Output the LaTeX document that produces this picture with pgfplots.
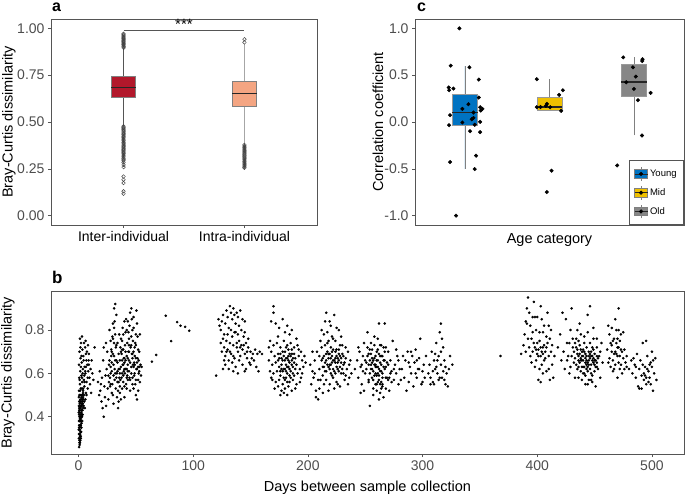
\documentclass[border=0pt]{standalone}
\usepackage{pgfplots}
\pgfplotsset{compat=1.18}
\usepgfplotslibrary{statistics}
\usepackage{fontspec}
\setmainfont{Liberation Sans}
\definecolor{tl}{HTML}{4D4D4D}
\definecolor{frame}{HTML}{555555}
\definecolor{redA}{HTML}{B2182B}
\definecolor{salmon}{HTML}{F4A582}
\definecolor{jblue}{HTML}{0073C2}
\definecolor{jyellow}{HTML}{EFC000}
\definecolor{jgray}{HTML}{868686}
\pgfplotsset{
  base/.style={
    scale only axis,
    axis line style={frame, line width=0.8pt},
    tick style={frame, line width=0.6pt},
    major tick length=3pt,
    tick align=outside,
    tick pos=left,
    ticklabel style={text=tl, font=\fontsize{14}{16}\selectfont},
    label style={font=\fontsize{14.5}{17}\selectfont},
    /pgf/number format/assume math mode=true,
    boxplot/draw direction=y,
    boxplot/whisker extend=0,
    boxplot/every median/.style={black!85, line width=1.3pt},
  }
}
\begin{document}
\begin{tikzpicture}
\path[use as bounding box] (0,0) rectangle (685pt,496pt);
% ---------------- panel a
\begin{axis}[base, at={(51pt,271pt)}, anchor=south west, width=266pt, height=206pt,
  xmin=0.4, xmax=2.6, ymin=-0.05, ymax=1.05,
  xtick={1,2}, xticklabels={Inter-individual,Intra-individual},
  xticklabel style={text=black},
  ytick={0,0.25,0.5,0.75,1}, yticklabels={0.00,0.25,0.50,0.75,1.00},
  ylabel={Bray-Curtis dissimilarity},
  ylabel style={at={(axis description cs:-0.158,0.5)}, anchor=center},
  boxplot/box extend=0.2]
\addplot[draw=gray, fill=redA, line width=0.6pt,
  boxplot/every whisker/.style={draw=frame, line width=0.8pt},
  boxplot prepared={draw position=1, lower whisker=0.48, lower quartile=0.632,
  median=0.684, upper quartile=0.742, upper whisker=0.892}] coordinates {};
\addplot[draw=gray, fill=salmon, line width=0.6pt,
  boxplot/every whisker/.style={draw=gray!70, line width=0.8pt},
  boxplot prepared={draw position=2, lower whisker=0.385, lower quartile=0.582,
  median=0.652, upper quartile=0.717, upper whisker=0.918}] coordinates {};
\addplot[only marks, mark=o, mark size=1.8pt, draw=black!75, mark options={line width=0.45pt}] coordinates {
(1,0.896)(1,0.901)(1,0.905)(1,0.911)(1,0.915)(1,0.920)(1,0.926)(1,0.930)(1,0.935)(1,0.941)(1,0.946)(1,0.950)(1,0.955)(1,0.961)(1,0.966)(1,0.971)
(1,0.477)(1,0.471)(1,0.467)(1,0.460)(1,0.455)(1,0.450)(1,0.443)(1,0.438)(1,0.433)(1,0.426)(1,0.421)(1,0.416)(1,0.409)(1,0.404)(1,0.399)(1,0.392)(1,0.387)(1,0.382)(1,0.375)(1,0.370)(1,0.365)(1,0.358)(1,0.353)(1,0.348)(1,0.341)(1,0.336)(1,0.331)(1,0.324)(1,0.318)(1,0.313)(1,0.305)(1,0.299)(1,0.293)(1,0.284)(1,0.271)(1,0.259)(1,0.209)(1,0.192)(1,0.174)(1,0.130)(1,0.117)
(2,0.925)(2,0.942)
(2,0.378)(2,0.372)(2,0.366)(2,0.361)(2,0.355)(2,0.349)(2,0.344)(2,0.338)(2,0.333)(2,0.327)(2,0.321)(2,0.315)(2,0.309)(2,0.304)(2,0.298)(2,0.292)(2,0.287)(2,0.281)(2,0.276)(2,0.270)(2,0.265)(2,0.259)(2,0.255)
};
\addplot[frame, line width=0.7pt] coordinates {(1,0.991)(2,0.991)};
\node[anchor=south, inner sep=1pt, font=\fontsize{15}{15}\selectfont] at (axis cs:1.5,0.985) {***};
\end{axis}
% ---------------- panel c
\begin{axis}[base, at={(415pt,271pt)}, anchor=south west, width=269pt, height=206pt,
  xmin=-1.59, xmax=1.59, ymin=-1.1, ymax=1.1,
  xtick=\empty,
  ytick={-1,-0.5,0,0.5,1}, yticklabels={-1.0,-0.5,0.0,0.5,1.0},
  ylabel={Correlation coefficient},
  ylabel style={at={(axis description cs:-0.1375,0.5)}, anchor=center},
  xlabel={Age category},
  xlabel style={at={(axis description cs:0.5,-0.089)}, anchor=base},
  boxplot/box extend=0.3,
  legend style={at={(1,0)}, anchor=south east, draw=frame, line width=0.8pt,
    font=\fontsize{9.5}{11}\selectfont, row sep=4.5pt, inner xsep=5pt, inner ysep=6pt},
  legend cell align=left]
\addplot[forget plot, draw=gray!80, fill=jblue, line width=0.6pt,
  boxplot/every whisker/.style={draw=gray, line width=0.7pt},
  boxplot prepared={draw position=-1, lower whisker=-0.503, lower quartile=-0.034,
  median=0.098, upper quartile=0.297, upper whisker=0.598}] coordinates {};
\addplot[forget plot, draw=gray!80, fill=jyellow, line width=0.6pt,
  boxplot/every whisker/.style={draw=gray, line width=0.7pt},
  boxplot prepared={draw position=0, lower whisker=0.119, lower quartile=0.126,
  median=0.161, upper quartile=0.268, upper whisker=0.457}] coordinates {};
\addplot[forget plot, draw=gray!80, fill=jgray, line width=0.6pt,
  boxplot/every whisker/.style={draw=gray, line width=0.7pt},
  boxplot prepared={draw position=1, lower whisker=-0.144, lower quartile=0.271,
  median=0.428, upper quartile=0.62, upper whisker=0.69}] coordinates {};
\addplot[forget plot, only marks, mark=*, mark size=1.8pt, black] coordinates {
(-1.065,1.0)(-1.168,0.602)(-0.947,0.584)(-0.836,0.453)(-1.191,0.368)(-1.136,0.357)(-1.187,0.339)
(-0.836,0.261)(-0.959,0.19)(-1.03,0.14)(-0.82,0.158)(-0.793,0.14)(-0.813,0.123)(-0.899,0.101)
(-1.176,0.073)(-0.899,0.044)(-0.919,0.03)(-1.03,-0.005)(-0.82,0.002)(-0.884,-0.03)(-1.187,-0.034)
(-0.939,-0.098)(-0.82,-0.108)(-0.868,-0.36)(-1.176,-0.428)(-0.884,-0.503)(-1.105,-1.0)
(-0.15,0.457)(0.158,0.339)(0.114,0.29)(-0.03,0.194)(-0.043,0.172)(0.008,0.158)(-0.15,0.158)(-0.106,0.16)(0.138,0.119)(0.024,-0.52)(-0.032,-0.748)
(0.872,0.69)(1.1,0.67)(1.096,0.652)(0.986,0.584)(1.02,0.485)(0.907,0.424)(0.998,0.353)(1.195,0.311)(1.045,0.233)(1.093,-0.144)(0.8,-0.464)
};
\addlegendimage{legend image code/.code={
  \draw[gray, line width=0.6pt] (0.25cm,-0.24cm) -- (0.25cm,0.24cm);
  \draw[draw=gray, fill=jblue, line width=0.5pt] (0.02cm,-0.15cm) rectangle (0.48cm,0.15cm);
  \draw[black!85, line width=0.8pt] (0.02cm,0) -- (0.48cm,0);
  \fill[black] (0.25cm,0) circle (1.6pt);}}
\addlegendentry{Young}
\addlegendimage{legend image code/.code={
  \draw[gray, line width=0.6pt] (0.25cm,-0.24cm) -- (0.25cm,0.24cm);
  \draw[draw=gray, fill=jyellow, line width=0.5pt] (0.02cm,-0.15cm) rectangle (0.48cm,0.15cm);
  \draw[black!85, line width=0.8pt] (0.02cm,0) -- (0.48cm,0);
  \fill[black] (0.25cm,0) circle (1.6pt);}}
\addlegendentry{Mid}
\addlegendimage{legend image code/.code={
  \draw[gray, line width=0.6pt] (0.25cm,-0.24cm) -- (0.25cm,0.24cm);
  \draw[draw=gray, fill=jgray, line width=0.5pt] (0.02cm,-0.15cm) rectangle (0.48cm,0.15cm);
  \draw[black!85, line width=0.8pt] (0.02cm,0) -- (0.48cm,0);
  \fill[black] (0.25cm,0) circle (1.6pt);}}
\addlegendentry{Old}
\end{axis}
% ---------------- panel b
\begin{axis}[base, at={(51pt,42pt)}, anchor=south west, width=633pt, height=162.3pt,
  xmin=-24, xmax=528, ymin=0.228, ymax=0.977,
  xtick={0,100,200,300,400,500}, xticklabels={0,100,200,300,400,500},
  ytick={0.4,0.6,0.8}, yticklabels={0.4,0.6,0.8},
  ylabel={Bray-Curtis dissimilarity},
  ylabel style={at={(axis description cs:-0.068,0.5)}, anchor=center},
  xlabel={Days between sample collection},
  xlabel style={at={(axis description cs:0.5,-0.232)}, anchor=base}]
\addplot[only marks, mark=*, mark size=1.1pt, black] coordinates {
(0.5,0.26)(1,0.27)(0.8,0.28)(1.5,0.29)(0.3,0.30)(1.2,0.31)(2,0.30)(0.7,0.32)(1.6,0.33)(0.2,0.34)(2.3,0.33)(1.1,0.35)(0.6,0.36)(1.8,0.36)(2.6,0.37)(0.4,0.38)(1.4,0.38)(2.1,0.39)(0.9,0.40)(3,0.40)(1.7,0.41)(0.2,0.42)(2.4,0.42)(1.3,0.43)(3.4,0.43)(0.7,0.44)(1.9,0.44)(2.8,0.45)(0.4,0.45)(3.8,0.46)(1.1,0.46)(2.2,0.47)(0.6,0.47)(3.1,0.48)(1.5,0.48)(4.2,0.48)(0.3,0.49)(2.6,0.49)(1.8,0.50)(3.5,0.50)(0.9,0.38)(1.3,0.34)(0.5,0.41)(2.0,0.36)(1.6,0.45)(2.9,0.43)(4.5,0.45)(3.3,0.46)(0.8,0.50)(5,0.47)(1.2,0.39)(2.5,0.35)(0.4,0.32)(1.9,0.31)(3.6,0.41)(4.8,0.50)(5.5,0.44)(6,0.48)
(0.9,0.29)(1.4,0.32)(2.2,0.38)(1.0,0.42)(2.7,0.40)(3.9,0.44)(0.6,0.43)(1.6,0.47)(2.9,0.48)(4.0,0.49)(1.2,0.28)(1.8,0.40)(2.4,0.45)(3.2,0.38)(0.8,0.36)
(1.1,0.30)(2.0,0.33)(0.5,0.35)(1.7,0.38)(2.8,0.41)(1.0,0.44)(3.5,0.47)(2.3,0.50)(4.0,0.53)(1.4,0.52)(3.0,0.58)(5.8,0.61)(2.6,0.68)(7.3,0.70)(1.7,0.72)(4.8,0.74)(6.5,0.69)(8.8,0.66)(3.6,0.60)(0.9,0.47)(2.7,0.46)(3.9,0.51)(5.2,0.56)(6.4,0.63)(8.0,0.58)
(0.5,0.52)(2,0.53)(4,0.52)(6.5,0.51)(1.2,0.55)(3.2,0.56)(5.1,0.54)(8,0.53)(0.7,0.58)(2.5,0.59)(4.6,0.57)(7,0.56)(9.5,0.58)(1.5,0.61)(3.8,0.62)(6,0.60)(8.5,0.61)(0.4,0.64)(2.8,0.65)(5.3,0.63)(7.6,0.64)(10.5,0.62)(1.8,0.67)(4.2,0.68)(6.8,0.66)(0.9,0.70)(3.4,0.71)(9,0.69)(2.2,0.74)(5.7,0.72)(1.2,0.76)(3,0.77)(6.2,0.75)(8.2,0.73)(11.5,0.66)(12,0.60)(13,0.57)(10,0.55)(11,0.51)(14,0.72)(3,0.53)(5,0.59)(7,0.50)(2,0.63)(4.5,0.66)(9,0.64)(1,0.57)
(17,0.56)(18,0.50)(19,0.52)(20,0.47)(21,0.44)(22,0.40)(18.5,0.61)(20.5,0.58)(22.5,0.54)(23,0.49)(24,0.45)(24.5,0.62)(25,0.70)(21.5,0.66)(23.5,0.59)(19.5,0.55)(25.5,0.53)(26,0.48)(22,0.72)(24,0.74)(26.5,0.64)
(27,0.80)(28,0.75)(28.5,0.68)(29,0.61)(29.5,0.55)(30,0.50)(30.5,0.46)(31,0.90)(31.5,0.84)(32,0.78)(32.5,0.72)(33,0.66)(33.5,0.60)(34,0.56)(34.5,0.52)(35,0.47)(27.5,0.58)(28,0.63)(29,0.70)(30,0.76)(31,0.81)(32,0.92)(33,0.87)(34,0.74)(35,0.69)(26,0.59)(27,0.66)(28.5,0.71)(30.5,0.64)(31.5,0.57)(32.5,0.53)(33.5,0.49)(34.5,0.44)(29.5,0.77)(30,0.83)(35,0.62)(34,0.65)(31,0.68)(27.5,0.54)(33,0.73)(32,0.60)(29,0.51)(26.5,0.56)(30.5,0.59)(31.5,0.62)(28,0.55)(35.5,0.58)(35.5,0.78)
(36,0.51)(36.5,0.57)(37,0.63)(37.5,0.69)(38,0.75)(38.5,0.81)(39,0.56)(39.5,0.61)(40,0.67)(40.5,0.73)(41,0.79)(41.5,0.85)(42,0.53)(42.5,0.59)(43,0.64)(43.5,0.70)(44,0.76)(44.5,0.82)(45,0.88)(36,0.66)(37,0.48)(38,0.60)(39,0.71)(40,0.54)(41,0.62)(42,0.68)(43,0.57)(44,0.61)(45,0.65)(36.5,0.72)(37.5,0.58)(38.5,0.64)(39.5,0.67)(40.5,0.60)(41.5,0.55)(42.5,0.74)(43.5,0.79)(44.5,0.58)(45,0.52)(38,0.53)(40,0.49)(42,0.62)(44,0.66)(39,0.78)(41,0.70)(43,0.84)(37,0.76)(45.5,0.72)(36,0.60)(40,0.65)
(46,0.90)(46.5,0.85)(47,0.80)(47.5,0.75)(48,0.70)(48.5,0.65)(49,0.60)(49.5,0.55)(50,0.50)(50.5,0.89)(51,0.83)(51.5,0.77)(52,0.71)(52.5,0.66)(53,0.61)(53.5,0.56)(54,0.64)(46,0.63)(47,0.58)(48,0.53)(49,0.68)(50,0.73)(51,0.62)(52,0.57)(53,0.70)(46.5,0.69)(47.5,0.64)(48.5,0.59)(49.5,0.74)(50.5,0.62)(51.5,0.67)(52.5,0.60)(53.5,0.78)(48,0.81)(50,0.78)(52,0.52)(47,0.55)(49,0.64)(51,0.48)(46,0.73)(54.5,0.59)(55,0.63)
(38,0.66)(40,0.62)(42,0.58)(44,0.70)(46,0.60)(48,0.63)(50,0.67)(36,0.62)(34,0.61)(32,0.66)(30,0.69)(28,0.60)(39,0.59)(41,0.66)(43,0.61)(45,0.57)(47,0.69)(49,0.72)(51,0.65)(53,0.63)(37,0.70)(35,0.56)(33,0.58)(31,0.74)(29,0.65)(44,0.73)(46,0.77)(48,0.86)(42,0.80)(40,0.84)(38,0.71)(36,0.54)(50,0.57)(52,0.63)(47,0.67)(43,0.67)(39,0.64)
(64,0.654)(67.7,0.685)(76,0.866)(80.8,0.749)(86,0.837)(89,0.82)(93,0.815)(96.5,0.797)
(122,0.85)(123,0.82)(124,0.80)(125,0.84)(126,0.87)(127,0.78)(128,0.83)(129,0.89)(130,0.86)(131,0.81)(132,0.91)(133,0.88)(134,0.85)(135,0.90)(136,0.87)(137,0.83)(138,0.88)(139,0.86)(140,0.82)(141,0.89)(143,0.85)(145,0.84)
(124,0.74)(125,0.70)(126,0.76)(127,0.72)(128,0.68)(129,0.75)(130,0.71)(131,0.66)(132,0.74)(133,0.69)(134,0.77)(135,0.73)(136,0.67)(137,0.79)(138,0.72)(139,0.70)(140,0.75)(141,0.68)(142,0.73)(143,0.71)(144,0.77)(145,0.69)(146,0.74)(147,0.70)(148,0.72)(150,0.70)(152,0.69)(154,0.71)(156,0.69)(158,0.70)(160,0.69)(130,0.78)(133,0.80)(136,0.79)(139,0.78)(142,0.80)(145,0.79)(128,0.64)(131,0.62)(134,0.65)(137,0.63)(140,0.66)(143,0.64)(146,0.62)(149,0.65)(135,0.61)(139,0.60)(145,0.61)(132,0.70)(138,0.74)(141,0.72)(135,0.68)(129,0.70)(147,0.67)(150,0.64)(153,0.66)(155,0.63)(157,0.61)(120,0.59)(127,0.66)(126,0.62)(144,0.73)(148,0.76)(151,0.67)
(170,0.91)(170,0.88)(168,0.84)(172,0.83)(175,0.81)(178,0.85)(182,0.82)(186,0.80)(180,0.79)(174,0.77)(184,0.78)(190,0.76)(167,0.75)(170,0.73)(173,0.74)(176,0.72)(179,0.75)(182,0.73)(185,0.74)(188,0.72)(191,0.73)(194,0.70)(168,0.70)(171,0.68)(174,0.69)(177,0.67)(180,0.70)(183,0.68)(186,0.69)(189,0.67)(192,0.68)(195,0.66)(198,0.65)(166,0.66)(169,0.64)(172,0.65)(175,0.63)(178,0.66)(181,0.64)(184,0.65)(187,0.63)(190,0.64)(193,0.62)(196,0.63)(167,0.61)(170,0.60)(173,0.61)(176,0.59)(179,0.62)(182,0.60)(185,0.61)(188,0.59)(191,0.60)(194,0.58)(169,0.57)(172,0.56)(175,0.57)(178,0.55)(181,0.58)(184,0.56)(187,0.57)(190,0.55)(193,0.56)(171,0.53)(174,0.54)(177,0.52)(180,0.53)(183,0.54)(186,0.52)(189,0.53)(176,0.50)(179,0.51)(182,0.50)(184,0.62)(183,0.66)(181,0.67)(185,0.58)(186,0.66)(179,0.68)(177,0.62)(188,0.65)(180,0.57)(182,0.63)(178,0.61)(184,0.69)(187,0.60)(186,0.71)(181,0.72)(174,0.66)(176,0.69)(192,0.71)(195,0.60)(197,0.68)(168,0.58)(166,0.72)
(177,0.64)(180,0.66)(183,0.63)(186,0.64)(179,0.58)(182,0.56)(185,0.68)(178,0.70)(181,0.61)(184,0.59)(187,0.67)(176,0.61)(189,0.62)(175,0.67)(188,0.69)(183,0.71)(180,0.62)(182,0.67)
(202,0.64)(204,0.61)(206,0.66)(205,0.58)(203,0.55)(208,0.70)(207,0.52)(207,0.49)(209,0.48)(210,0.62)(212,0.72)(211,0.57)(213,0.67)(214,0.78)(215,0.84)(216,0.88)(217,0.74)(218,0.63)(219,0.69)(220,0.82)(221,0.59)(222,0.76)(223,0.87)(224,0.65)(225,0.71)(226,0.55)(227,0.80)(228,0.68)(229,0.60)(230,0.73)(231,0.64)(232,0.57)(233,0.67)(234,0.62)(235,0.70)(236,0.58)(237,0.66)
(212,0.66)(213,0.63)(214,0.68)(215,0.65)(216,0.61)(217,0.70)(218,0.67)(219,0.64)(220,0.72)(221,0.68)(222,0.62)(223,0.66)(224,0.70)(225,0.63)(226,0.67)(227,0.61)(228,0.73)(229,0.65)(230,0.69)(231,0.60)(215,0.73)(218,0.75)(221,0.77)(224,0.75)(227,0.71)(216,0.57)(219,0.55)(222,0.58)(225,0.56)(228,0.54)(210,0.68)(213,0.59)(217,0.79)(220,0.60)(223,0.53)(226,0.62)(229,0.77)(232,0.65)(211,0.75)(214,0.55)(230,0.62)(233,0.72)(235,0.55)(212,0.80)(219,0.84)(225,0.81)(209,0.57)(218,0.52)(221,0.65)(224,0.60)(227,0.66)(216,0.69)(222,0.71)(210,0.53)(233,0.59)(236,0.64)(238,0.60)(204,0.70)(206,0.60)(213,0.51)(215,0.61)(220,0.67)
(220,0.64)(222,0.66)(224,0.67)(218,0.69)(216,0.66)(226,0.65)(228,0.63)(221,0.70)(223,0.61)(225,0.68)(219,0.62)(217,0.64)(227,0.69)(229,0.67)(214,0.63)(231,0.68)
(241,0.62)(243,0.66)(244,0.58)(245,0.70)(246,0.63)(247,0.55)(248,0.68)(249,0.74)(250,0.60)(251,0.65)(252,0.79)(253,0.57)(254,0.45)(254,0.71)(255,0.62)(256,0.67)(257,0.53)(258,0.73)(259,0.64)(260,0.59)(261,0.76)(262,0.83)(263,0.61)(264,0.68)(265,0.55)(266,0.72)(267,0.83)(268,0.63)(269,0.58)(270,0.70)(271,0.52)(272,0.66)(273,0.61)(274,0.75)(275,0.57)(276,0.64)(277,0.60)(278,0.68)(279,0.55)(280,0.62)
(250,0.66)(251,0.62)(252,0.68)(253,0.64)(254,0.60)(255,0.69)(256,0.65)(257,0.61)(258,0.67)(259,0.63)(260,0.70)(261,0.66)(262,0.62)(263,0.68)(264,0.64)(265,0.60)(266,0.66)(267,0.62)(268,0.58)(269,0.65)(252,0.72)(255,0.74)(258,0.77)(261,0.71)(264,0.73)(267,0.70)(270,0.64)(253,0.56)(256,0.58)(259,0.55)(262,0.57)(265,0.54)(268,0.53)(271,0.58)(257,0.50)(260,0.52)(263,0.51)(266,0.49)(262,0.48)(249,0.52)(248,0.61)(247,0.64)(273,0.56)(275,0.62)(277,0.71)(272,0.60)(263,0.73)(258,0.59)(256,0.71)(254,0.66)(265,0.68)(261,0.60)(244,0.72)(246,0.51)(270,0.57)(279,0.66)(268,0.72)(260,0.63)(264,0.56)(267,0.66)
(255,0.64)(257,0.66)(259,0.68)(261,0.63)(263,0.65)(253,0.69)(256,0.62)(258,0.64)(260,0.66)(262,0.69)(264,0.61)(266,0.63)(259,0.60)(262,0.59)(265,0.58)(257,0.57)(261,0.56)(263,0.55)(260,0.55)(264,0.53)
(282,0.62)(284,0.58)(285,0.66)(287,0.70)(288,0.56)(289,0.63)(290,0.60)(291,0.68)(292,0.54)(293,0.65)(294,0.71)(295,0.58)(296,0.62)(297,0.67)(298,0.76)(299,0.55)(300,0.61)(301,0.64)(302,0.58)(286,0.52)(290,0.70)(294,0.60)(297,0.62)(283,0.68)(288,0.65)(295,0.66)(300,0.56)(303,0.68)(281,0.57)
(305,0.60)(306,0.64)(307,0.58)(308,0.70)(309,0.56)(310,0.66)(311,0.62)(312,0.74)(313,0.60)(314,0.68)(315,0.79)(316,0.83)(316,0.64)(317,0.58)(318,0.72)(319,0.66)(320,0.55)(321,0.60)(322,0.54)(323,0.62)(324,0.68)(326,0.64)(310,0.55)(312,0.63)(314,0.57)(316,0.70)(318,0.61)(315,0.58)(313,0.66)(311,0.69)(317,0.76)(319,0.57)(309,0.61)(320,0.63)(307,0.55)
(368,0.68)
(388,0.73)(389,0.78)(390,0.84)(391,0.90)(392,0.95)(393,0.88)(394,0.82)(395,0.76)(396,0.70)(397,0.93)(398,0.86)(399,0.80)(400,0.74)(401,0.68)(402,0.62)(403,0.91)(404,0.85)(405,0.79)(406,0.73)(407,0.67)(408,0.61)(409,0.88)(410,0.82)(411,0.76)(412,0.70)(413,0.64)(414,0.58)(390,0.70)(392,0.76)(394,0.68)(396,0.79)(398,0.72)(400,0.69)(402,0.75)(404,0.70)(406,0.66)(408,0.72)(410,0.68)(399,0.66)(401,0.71)(403,0.68)(405,0.72)(407,0.70)(401,0.57)(403,0.56)(398,0.63)(405,0.60)(410,0.62)(412,0.80)(393,0.72)(395,0.65)(397,0.74)(406,0.82)(408,0.77)(386,0.69)(391,0.83)(400,0.86)(402,0.79)(404,0.64)(396,0.86)(411,0.57)(413,0.73)(415,0.68)(409,0.74)(399,0.71)(403,0.72)(405,0.69)
(418,0.72)(420,0.78)(421,0.66)(422,0.88)(423,0.70)(424,0.62)(425,0.85)(426,0.74)(427,0.68)(428,0.60)(429,0.80)(430,0.90)(431,0.72)(432,0.65)(433,0.58)(434,0.76)(435,0.69)(436,0.63)(437,0.83)(438,0.71)(439,0.66)(440,0.60)(441,0.74)(442,0.55)(443,0.68)(444,0.87)(445,0.64)(446,0.91)(447,0.70)(448,0.59)(449,0.76)(450,0.66)(451,0.54)(452,0.72)(453,0.62)(454,0.68)(455,0.58)(456,0.74)(457,0.65)
(432,0.70)(433,0.67)(434,0.64)(435,0.71)(436,0.68)(437,0.65)(438,0.67)(439,0.70)(440,0.66)(441,0.63)(442,0.69)(443,0.66)(444,0.63)(445,0.70)(446,0.67)(447,0.64)(448,0.68)(449,0.65)(450,0.69)(451,0.66)(452,0.63)(453,0.67)(434,0.72)(437,0.73)(440,0.71)(443,0.72)(446,0.74)(449,0.71)(452,0.68)(435,0.62)(438,0.61)(441,0.60)(444,0.61)(447,0.60)(450,0.61)(436,0.58)(439,0.57)(442,0.59)(445,0.57)(448,0.56)(444,0.55)(447,0.57)(441,0.77)(438,0.78)(444,0.79)(435,0.80)(449,0.81)(431,0.76)(428,0.74)(426,0.66)(429,0.63)(433,0.74)(455,0.70)(452,0.76)(430,0.68)(436,0.75)(439,0.63)(442,0.65)(445,0.68)(448,0.72)(451,0.63)
(438,0.66)(440,0.68)(442,0.67)(444,0.65)(446,0.69)(448,0.66)(441,0.70)(443,0.64)(445,0.66)(447,0.68)(439,0.68)(449,0.67)(437,0.69)(450,0.64)(452,0.65)(446,0.62)(443,0.62)(440,0.63)(436,0.66)
(462,0.82)(463,0.78)(464,0.74)(465,0.70)(466,0.66)(467,0.62)(468,0.85)(469,0.80)(470,0.76)(471,0.90)(471,0.72)(472,0.68)(473,0.64)(474,0.60)(475,0.79)(476,0.71)(477,0.65)(463,0.67)(465,0.73)(467,0.76)(469,0.69)(471,0.65)(473,0.71)(475,0.67)(464,0.63)(466,0.61)(468,0.70)(470,0.68)(472,0.75)(474,0.70)(476,0.62)(469,0.74)(470,0.72)(471,0.80)(473,0.78)(465,0.81)(467,0.69)(461,0.71)(462,0.65)(478,0.68)(472,0.62)(466,0.75)(470,0.58)(468,0.64)
(480,0.62)(482,0.66)(483,0.60)(485,0.64)(486,0.58)(487,0.69)(488,0.54)(489,0.62)(490,0.66)(491,0.59)(492,0.74)(493,0.57)(494,0.63)(495,0.55)(496,0.68)(497,0.61)(498,0.58)(499,0.65)(500,0.70)(501,0.52)(502,0.60)(503,0.67)(504,0.57)(493,0.60)(495,0.58)(497,0.56)(494,0.59)(496,0.62)(498,0.64)(495,0.75)(500,0.63)(491,0.53)(489,0.53)(499,0.55)(492,0.64)(501,0.66)(486,0.63)(484,0.67)(478,0.63)
};
\end{axis}
\node[anchor=base west, inner sep=0pt, font=\bfseries\fontsize{16}{16}\selectfont] at (52pt,484pt) {a};
\node[anchor=base west, inner sep=0pt, font=\bfseries\fontsize{16}{16}\selectfont] at (417pt,484pt) {c};
\node[anchor=base west, inner sep=0pt, font=\bfseries\fontsize{17}{17}\selectfont] at (52pt,213pt) {b};
\end{tikzpicture}
\end{document}
